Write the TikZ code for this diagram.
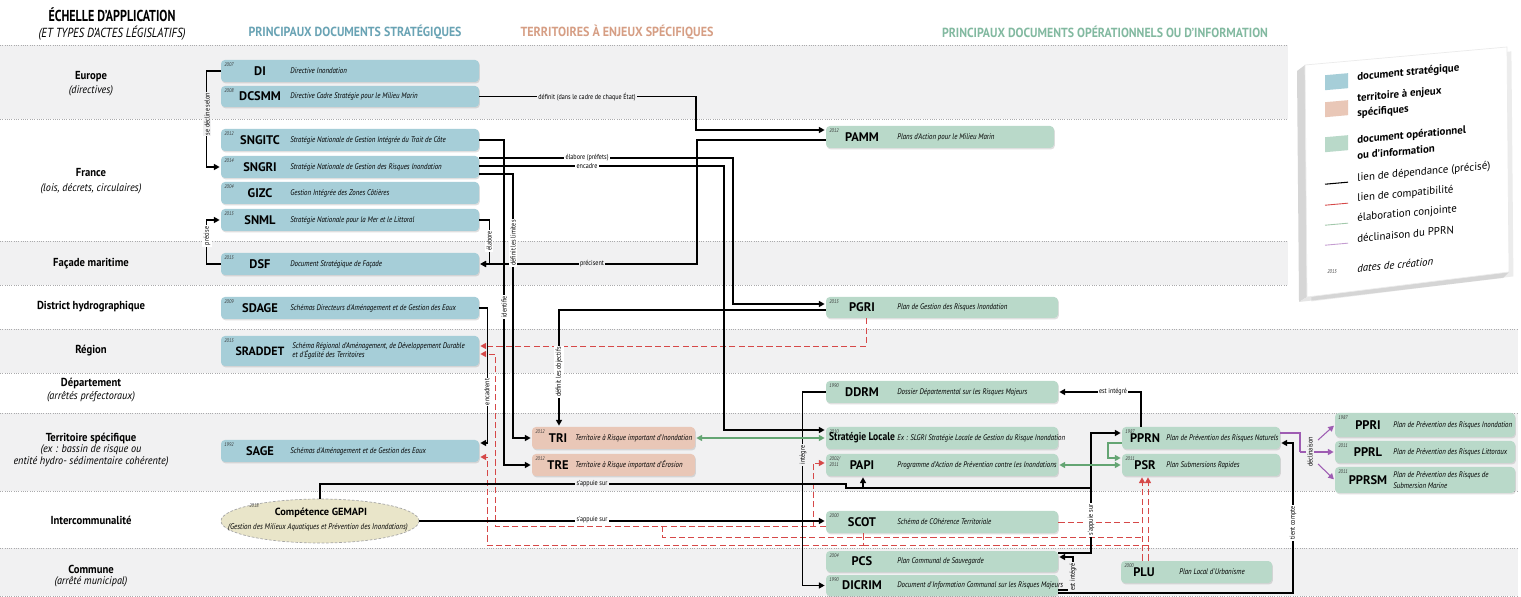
\documentclass[tikz,border=0pt]{standalone}
\usepackage{fontspec}
\usepackage{graphicx}
\setmainfont{PT Sans}
\newfontfamily\condf{PT Sans}[FakeStretch=0.85]
\newfontfamily\semif{PT Sans}[FakeStretch=0.92]
\usetikzlibrary{arrows.meta,shadows,fit,shapes.geometric}

\definecolor{bandgray}{RGB}{241,241,242}
\definecolor{dotgray}{RGB}{170,170,172}
\definecolor{stratblue}{RGB}{166,206,216}
\definecolor{terrsalmon}{RGB}{233,199,183}
\definecolor{opgreen}{RGB}{185,217,201}
\definecolor{hblue}{RGB}{105,163,180}
\definecolor{hsalmon}{RGB}{214,158,132}
\definecolor{hgreen}{RGB}{130,185,160}
\definecolor{compred}{RGB}{214,72,72}
\definecolor{elabgreen}{RGB}{100,165,115}
\definecolor{declpurple}{RGB}{158,92,178}
\definecolor{gemafill}{RGB}{233,229,201}

\tikzset{
  dotline/.style={draw=dotgray, line width=0.35pt, dash pattern=on 0.5pt off 0.8pt},
  box/.style={rounded corners=2.2pt, inner sep=0pt, drop shadow={opacity=0.25, shadow xshift=0.5pt, shadow yshift=-0.8pt}},
  sbox/.style={box, fill=stratblue},
  tbox/.style={box, fill=terrsalmon},
  obox/.style={box, fill=opgreen},
  yr/.style={font=\condf\itshape\fontsize{3}{3.4}\selectfont, inner sep=0pt, anchor=north west, align=left, text=black!80},
  acr/.style={font=\bfseries\fontsize{7.1}{8}\selectfont, inner sep=0pt},
  dsc/.style={font=\condf\itshape\fontsize{4.6}{5.6}\selectfont, inner sep=0pt, anchor=west, align=left},
  lbl/.style={font=\condf\fontsize{4.1}{4.5}\selectfont, inner sep=0.8pt, fill=white},
  glbl/.style={lbl, fill=bandgray},
  vlbl/.style={lbl, rotate=90},
  gvlbl/.style={glbl, rotate=90},
  tip/.style={-{Triangle[length=3.2pt,width=3.4pt]}, shorten >=0.6pt},
  tips/.style={{Triangle[length=3.2pt,width=3.4pt]}-{Triangle[length=3.2pt,width=3.4pt]}, shorten >=0.6pt, shorten <=0.6pt},
  dep/.style={draw=black, line width=0.7pt},
  comp/.style={draw=compred, line width=0.55pt, dash pattern=on 3.5pt off 1.8pt},
  elab/.style={draw=elabgreen, line width=0.6pt},
  decl/.style={draw=declpurple, line width=0.6pt},
  lvl/.style={font=\semif\bfseries\fontsize{6.6}{7}\selectfont, inner sep=0pt},
  lvs/.style={font=\semif\itshape\fontsize{6.3}{7}\selectfont, inner sep=0pt},
  legt/.style={font=\bfseries\fontsize{6.2}{8.6}\selectfont, inner sep=0pt, anchor=west, align=left},
  legl/.style={font=\fontsize{6.2}{7}\selectfont, inner sep=0pt, anchor=west},
}

\newcommand\doc[9]{%
  \node[#2, fit={(#3,#4) (#5,#6)}] (#1) {};
  \node[yr] (#1-y) at (#3+3,#4+2) {#7};
  \node[acr] (#1-a) at (#3+\acx,{(#4+#6)/2}) {#8};
  \node[dsc] (#1-d) at (#3+\dsx,{(#4+#6)/2}) {#9};
}

\begin{document}
\begin{tikzpicture}[x=0.02cm,y=-0.02cm]
\useasboundingbox (0,0) rectangle (1521,597);
\fill[white] (0,0) rectangle (1521,597);

% ---------- bands
\fill[bandgray] (0,45) rectangle (1288,119);
\fill[bandgray] (0,241) rectangle (1288,285);
\fill[bandgray] (0,329) rectangle (1518,373);
\fill[bandgray] (0,413) rectangle (1518,491);
\fill[bandgray] (0,548) rectangle (1518,596);
\foreach \y in {45,119,241,285} \draw[dotline] (0,\y) -- (1288,\y);
\foreach \y in {329,373,413,491,548,596} \draw[dotline] (0,\y) -- (1518,\y);

% ---------- headers
\node[inner sep=0pt] (hT) at (112,15) {\resizebox{2.54cm}{\height}{\bfseries\fontsize{9}{10}\selectfont ÉCHELLE D'APPLICATION}};
\node[inner sep=0pt] (hT2) at (112,33) {\resizebox{2.94cm}{\height}{\itshape\fontsize{7.5}{8}\selectfont (ET TYPES D'ACTES LÉGISLATIFS)}};
\node[inner sep=0pt, text=hblue] (hS) at (355,32) {\resizebox{4.26cm}{\height}{\bfseries\fontsize{7.5}{8}\selectfont PRINCIPAUX DOCUMENTS STRATÉGIQUES}};
\node[inner sep=0pt, text=hsalmon] (hTe) at (617,32) {\resizebox{3.86cm}{\height}{\bfseries\fontsize{7.5}{8}\selectfont TERRITOIRES À ENJEUX SPÉCIFIQUES}};
\node[inner sep=0pt, text=hgreen] (hO) at (1105,32) {\resizebox{6.52cm}{\height}{\bfseries\fontsize{7.5}{8}\selectfont PRINCIPAUX DOCUMENTS OPÉRATIONNELS OU D'INFORMATION}};

% ---------- left column
\node[lvl] (eu) at (91,77) {Europe};
\node[lvs] (eu2) at (91,91) {(directives)};
\node[lvl] (fr) at (91,173) {France};
\node[lvs] (fr2) at (91,189) {(lois, décrets, circulaires)};
\node[lvl] (fm) at (91,264) {Façade maritime};
\node[lvl] (dh) at (91,307) {District hydrographique};
\node[lvl] (rg) at (91,351) {Région};
\node[lvl] (dp) at (91,383) {Département};
\node[lvs] (dp2) at (91,397) {(arrêtés préfectoraux)};
\node[lvl] (ts) at (91,438) {Territoire spécifique};
\node[lvs] (ts2) at (91,450) {(ex : bassin de risque ou};
\node[lvs] (ts3) at (91,462) {entité hydro- sédimentaire cohérente)};
\node[lvl] (ic) at (91,520) {Intercommunalité};
\node[lvl] (cm) at (91,569) {Commune};
\node[lvs] (cm2) at (91,582) {(arrêté municipal)};

% ---------- strategic documents
\def\acx{39}\def\dsx{69}
\doc{DI}{sbox}{221}{60}{479}{82}{2007}{DI}{Directive Inondation}
\doc{DCSMM}{sbox}{221}{86}{479}{107}{2008}{DCSMM}{Directive Cadre Stratégie pour le Milieu Marin}
\doc{SNGITC}{sbox}{221}{129}{479}{151}{2012}{SNGITC}{Stratégie Nationale de Gestion Intégrée du Trait de Côte}
\doc{SNGRI}{sbox}{221}{156}{479}{178}{2014}{SNGRI}{Stratégie Nationale de Gestion des Risques Inondation}
\doc{GIZC}{sbox}{221}{182}{479}{204}{2004}{GIZC}{Gestion Intégrée des Zones Côtières}
\doc{SNML}{sbox}{221}{209}{479}{231}{2015}{SNML}{Stratégie Nationale pour la Mer et le Littoral}
\doc{DSF}{sbox}{221}{253}{479}{275}{2015}{DSF}{Document Stratégique de Façade}
\doc{SDAGE}{sbox}{221}{297}{479}{319}{2009}{SDAGE}{Schémas Directeurs d'Aménagement et de Gestion des Eaux}
\def\dsx{71}
\doc{SRADDET}{sbox}{221}{336}{479}{366}{2015}{\fontsize{6.8}{8}\selectfont SRADDET}{Schéma Régional d'Aménagement, de Développement Durable\\et d'Égalité des Territoires}
\def\dsx{69}
\doc{SAGE}{sbox}{221}{440}{479}{462}{1992}{SAGE}{Schémas d'Aménagement et de Gestion des Eaux}

% ---------- territories
\def\acx{26}\def\dsx{43}
\doc{TRI}{tbox}{532}{427}{695}{449}{2012}{TRI}{Territoire à Risque important d'Inondation}
\doc{TRE}{tbox}{532}{454}{695}{476}{2012}{TRE}{Territoire à Risque important d'Érosion}

% ---------- operational documents
\def\acx{36}\def\dsx{71}
\doc{PAMM}{obox}{826}{126}{1054}{148}{2012}{PAMM}{Plans d'Action pour le Milieu Marin}
\doc{PGRI}{obox}{826}{297}{1058}{318}{2015}{PGRI}{Plan de Gestion des Risques Inondation}
\doc{DDRM}{obox}{826}{381}{1058}{403}{1990}{DDRM}{Dossier Départemental sur les Risques Majeurs}
\doc{StratLoc}{obox}{826}{427}{1058}{449}{2010}{\condf\bfseries\fontsize{6.4}{7}\selectfont Stratégie Locale}{Ex : SLGRI Stratégie Locale de Gestion du Risque Inondation}
\doc{PAPI}{obox}{826}{454}{1058}{476}{2002/\\2011}{PAPI}{Programme d'Action de Prévention contre les Inondations}
\doc{SCOT}{obox}{826}{511}{1058}{533}{2000}{SCOT}{Schéma de COhérence Territoriale}
\doc{PCS}{obox}{826}{551}{1058}{572}{2004}{PCS}{Plan Communal de Sauvegarde}
\doc{DICRIM}{obox}{826}{575}{1058}{596}{1990}{DICRIM}{Document d'Information Communal sur les Risques Majeurs}
\def\acx{23}\def\dsx{44}
\doc{PPRN}{obox}{1122}{427}{1280}{449}{1987}{PPRN}{Plan de Prévention des Risques Naturels}
\doc{PSR}{obox}{1122}{454}{1280}{476}{2011}{PSR}{Plan Submersions Rapides}
\def\dsx{58}
\doc{PLU}{obox}{1121}{561}{1272}{583}{2000}{PLU}{Plan Local d'Urbanisme}
\def\acx{33}\def\dsx{58}
\doc{PPRI}{obox}{1335}{413}{1515}{437}{1987}{PPRI}{Plan de Prévention des Risques Inondation}
\doc{PPRL}{obox}{1335}{441}{1515}{463}{2011}{PPRL}{Plan de Prévention des Risques Littoraux}
\node[obox, fit={(1335,467) (1515,493)}] (PPRSM) {};
\node[yr] (PPRSM-y) at (1338,469) {2011};
\node[acr] (PPRSM-a) at (1368,480) {PPRSM};
\node[dsc] (PPRSM-d) at (1393,475) {Plan de Prévention des Risques de};
\node[dsc] (PPRSM-d2) at (1393,486) {Submersion Marine};

% ---------- GEMAPI
\node[ellipse, draw=gray!70, dash pattern=on 1.5pt off 1pt, fill=gemafill, minimum width=3.96cm, minimum height=0.88cm, inner sep=0pt, line width=0.4pt] (GEMAPI) at (320,521) {};
\node[yr] (GEMAPI-y) at (249,503) {2018};
\node[font=\bfseries\fontsize{5.9}{6.5}\selectfont, inner sep=0pt] (GEMAPI-a) at (321,513) {Compétence GEMAPI};
\node[font=\condf\itshape\fontsize{4.7}{5}\selectfont, inner sep=0pt] (GEMAPI-d) at (318,527) {(Gestion des Milieux Aquatiques et Prévention des Inondations)};

% ---------- red compatibility links
\draw[comp,tip] (PGRI.south -| 866,0) |- (SRADDET.east |- 0,346);
\draw[comp,tip] (SCOT.west |- 0,526) -| (495,354) -- (SRADDET.east |- 0,354);
\draw[comp,tip] (813,526) |- (PAPI.west |- 0,463);
\draw[comp,tip] (SCOT.south -| 863,0) |- (487,545) -- (487,457) -- (SAGE.east |- 0,457);
\draw[comp] (662,526) |- (1142,537);
\draw[comp] (863,545) -- (1148,545);
\draw[comp] (SCOT.east |- 0,522) -- (1142,522);
\draw[comp,tip] (PLU.north -| 1142,0) -- (PSR.south -| 1142,0);
\draw[comp,tip] (PLU.north -| 1148,0) -- (PSR.south -| 1148,0);

% ---------- black dependency links
\draw[dep,tip] (DI.west) -- ++(-14,0) |- (SNGRI.west);
\node[gvlbl] (L1) at (207,114) {se décline selon};
\draw[dep,tip] (DSF.west) -- ++(-14,0) |- (SNML.west);
\node[vlbl] (L2) at (207,236) {précise};
\draw[dep,tip] (SNML.east) -- ++(10,0) |- (DSF.east);
\node[vlbl] (L3) at (489,241) {élabore};
\draw[dep,tip] (PAMM.west |- 0,140) -| (697,264) -- (DSF.east);
\node[glbl] (L4) at (592,264) {précisent};
\draw[dep,tip] (DCSMM.east) -| (696,130) -- (PAMM.west |- 0,130);
\node[glbl] (L5) at (587,97) {définit (dans le cadre de chaque État)};
\draw[dep,tip] (SNGITC.east) -| (504,465) -- (TRE.west);
\node[vlbl] (L6) at (504,307) {identifie};
\draw[dep,tip] (SNGRI.east |- 0,174) -| (513,438) -- (TRI.west);
\node[vlbl] (L7) at (513,243) {définit les limites};
\draw[dep,tip] (SNGRI.east |- 0,158) -| (733,304) -- (PGRI.west |- 0,304);
\node[lbl] (L8) at (587,158) {élabore (préfets)};
\draw[dep,tip] (SNGRI.east |- 0,166) -| (724,430) -- (StratLoc.west |- 0,430);
\node[lbl] (L9) at (587,166.5) {encadre};
\draw[dep,tip] (PGRI.west |- 0,310) -| (TRI.north -| 559,0);
\node[vlbl] (L10) at (559,372) {définit les objectifs};
\draw[dep,tip] (SDAGE.east) -- ++(8,0) |- (SAGE.east |- 0,443);
\node[vlbl] (L11) at (487,392) {encadrent};
\draw[dep,tip] (GEMAPI.east) -- (SCOT.west |- GEMAPI.east);
\node[lbl] (L13) at (592,520) {s'appuie sur};
\draw[dep,tip] (GEMAPI.north) |- (846,484) |- (1091,488) |- (PPRN.west |- 0,433);
\draw[dep,tip] (863,488) -- (PAPI.south -| 863,0);
\node[glbl] (L14) at (592,484) {s'appuie sur};
\draw[dep,tip] (DDRM.west) -- ++(-23,0) |- (DICRIM.west);
\node[gvlbl] (L15) at (803,455) {intègre};
\draw[dep,tip] (PPRN.north -| 1141,0) |- (DDRM.east);
\node[lbl] (L16) at (1113,392) {est intégré};
\draw[dep,tip] (DICRIM.east |- 0,590) -| (1073,557) -- (PCS.east |- 0,557);
\node[gvlbl] (L17) at (1073,577) {est intégré};
\draw[dep] (PCS.east |- 0,553) -| (1091,488);
\node[vlbl] (L18) at (1091,520) {s'appuie sur};
\draw[dep,tip] (DICRIM.east |- 0,593) -| (1293,443) -- (PPRN.east |- 0,443);
\node[vlbl] (L19) at (1293,523) {tient compte};

% ---------- green joint elaboration
\draw[elab,tips] (TRI.east) -- (StratLoc.west |- TRI.east);
\draw[elab,tips] (PAPI.east) -- (PSR.west |- PAPI.east);
\draw[elab,tip] (PPRN.west |- 0,443) -- (1108,443) |- (PSR.west |- 0,458);

% ---------- purple declination
\draw[decl] (PPRN.east |- 0,433) -| (1300,452);
\draw[decl,tip] (1300,452) -- (PPRL.west);
\draw[decl,tip] (1318,440) -- (PPRI.west);
\draw[decl,tip] (1318,464) -- (PPRSM.west);
\node[gvlbl] (L20) at (1310,452) {déclinaison};

% ---------- legend
\fill[black!16] (1297,71) -- (1305,65) -- (1307,297) -- (1299,302) -- cycle;
\fill[black!10] (1299,302) -- (1307,297) -- (1509,272) -- (1503,278) -- cycle;
\filldraw[fill=white, draw=black!8, drop shadow={opacity=0.15}] (1305,65) -- (1507,47) -- (1509,272) -- (1307,297) -- cycle;
\begin{scope}[shift={(1305,65)}, yslant=0.089, transform shape]
  \fill[stratblue] (20,12) rectangle (43,27);
  \node[legt] (lg1) at (52,17) {document stratégique};
  \fill[terrsalmon] (20,39) rectangle (43,54);
  \node[legt] (lg2) at (52,46) {territoire à enjeux\\spécifiques};
  \fill[opgreen] (20,74) rectangle (43,89);
  \node[legt] (lg3) at (52,80) {document opérationnel};
  \node[legt] (lg3b) at (52,95) {ou d'information};
  \draw[black, line width=0.6pt] (20,121) -- (43,121);
  \node[legl] (lg4) at (52,118) {lien de dépendance (précisé)};
  \draw[compred, line width=0.5pt] (20,142) -- (43,142);
  \node[legl] (lg5) at (52,138) {lien de compatibilité};
  \draw[elabgreen!60, line width=0.5pt] (20,162) -- (43,162);
  \node[legl] (lg6) at (52,158) {élaboration conjointe};
  \draw[declpurple!60, line width=0.5pt] (20,182) -- (43,182);
  \node[legl] (lg7) at (52,178) {déclinaison du PPRN};
  \node[yr, anchor=west] (lg8) at (22,209) {2015};
  \node[legl, font=\itshape\fontsize{6.2}{7}\selectfont] (lg9) at (52,208) {dates de création};
\end{scope}
\end{tikzpicture}
\end{document}
